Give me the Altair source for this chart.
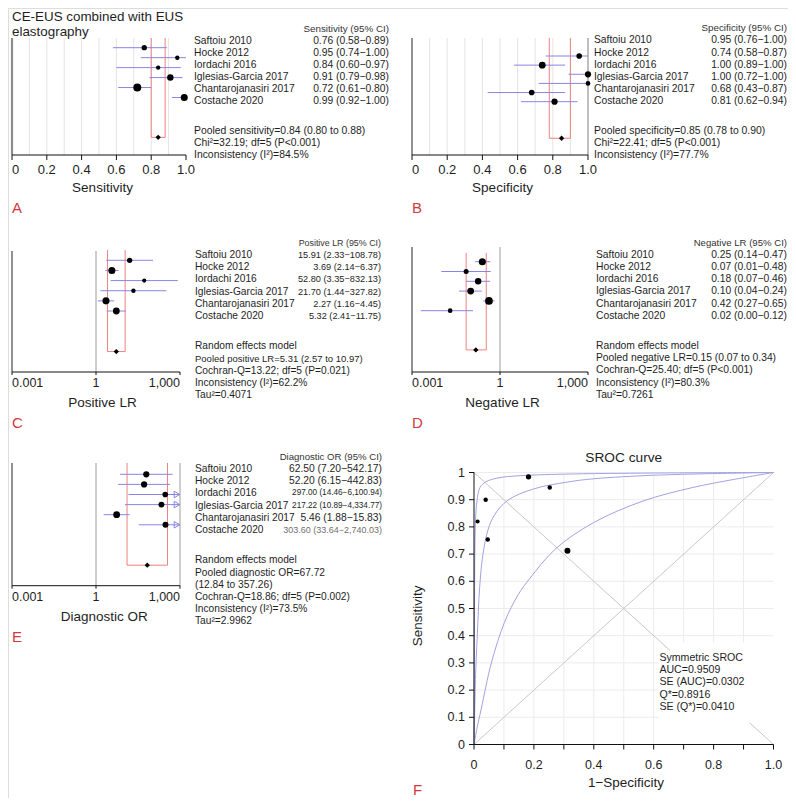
import math
import altair as alt
import pandas as pd

# ---------------------------------------------------------------- data
studies = ["Saftoiu 2010", "Hocke 2012", "Iordachi 2016", "Iglesias-Garcia 2017",
           "Chantarojanasiri 2017", "Costache 2020"]

sens_est = [0.76, 0.95, 0.84, 0.91, 0.72, 0.99]
sens_lo = [0.58, 0.74, 0.60, 0.79, 0.61, 0.92]
sens_hi = [0.89, 1.00, 0.97, 0.98, 0.80, 1.00]
sens_wt = [36, 25, 25, 53, 81, 64]
sens_pooled = [0.84, 0.80, 0.88]
sens_stats = ["Chi²=32.19; df=5 (P<0.001)", "Inconsistency (I²)=84.5%"]

spec_est = [0.95, 0.74, 1.00, 1.00, 0.68, 0.81]
spec_lo = [0.76, 0.58, 0.89, 0.72, 0.43, 0.62]
spec_hi = [1.00, 0.87, 1.00, 1.00, 0.87, 0.94]
spec_wt = [40, 59, 49, 28, 40, 49]
spec_pooled = [0.85, 0.78, 0.90]
spec_stats = ["Chi²=22.41; df=5 (P<0.001)", "Inconsistency (I²)=77.7%"]

plr_est = [15.91, 3.69, 52.80, 21.70, 2.27, 5.32]
plr_lo = [2.33, 2.14, 3.35, 1.44, 1.16, 2.41]
plr_hi = [108.78, 6.37, 832.13, 327.82, 4.45, 11.75]
plr_wt = [36, 64, 22, 25, 64, 59]
plr_pooled = [5.31, 2.57, 10.97]
plr_stats = ["Cochran-Q=13.22; df=5 (P=0.021)", "Inconsistency (I²)=62.2%", "Tau²=0.4071"]

nlr_est = [0.25, 0.07, 0.18, 0.10, 0.42, 0.02]
nlr_lo = [0.14, 0.01, 0.07, 0.04, 0.27, 0.002]
nlr_hi = [0.47, 0.48, 0.46, 0.24, 0.65, 0.12]
nlr_wt = [64, 32, 53, 59, 76, 28]
nlr_pooled = [0.15, 0.07, 0.34]
nlr_stats = ["Cochran-Q=25.40; df=5 (P<0.001)", "Inconsistency (I²)=80.3%", "Tau²=0.7261"]

dor_est = [62.50, 52.20, 297.00, 217.22, 5.46, 303.60]
dor_lo = [7.20, 6.15, 14.46, 10.89, 1.88, 33.64]
dor_hi = [542.17, 442.83, 6100.94, 4334.77, 15.83, 2740.03]
dor_wt = [49, 49, 40, 45, 59, 45]
dor_pooled = [67.72, 12.84, 357.26]
dor_stats = ["Cochran-Q=18.86; df=5 (P=0.002)", "Inconsistency (I²)=73.5%", "Tau²=2.9962"]

sroc_fpr = [0.046, 0.253, 0.012, 0.039, 0.312, 0.182]
sroc_tpr = [0.754, 0.945, 0.820, 0.900, 0.712, 0.984]
sroc_wt = [25, 25, 22, 25, 45, 36]

upper_x = [0.0, 0.001, 0.002, 0.003, 0.005, 0.010, 0.020, 0.040, 0.080, 0.150, 0.300, 0.600, 1.0]
upper_y = [0.0, 0.30, 0.58, 0.72, 0.82, 0.895, 0.945, 0.966, 0.980, 0.988, 0.994, 0.998, 1.0]
mid_x = [0.0, 0.002, 0.006, 0.011, 0.019, 0.030, 0.047, 0.069, 0.113, 0.200, 0.313, 0.400, 0.600, 0.800, 1.0]
mid_y = [0.0, 0.11, 0.28, 0.40, 0.58, 0.70, 0.79, 0.845, 0.898, 0.940, 0.965, 0.977, 0.990, 0.996, 1.0]
low_x = [0.0, 0.010, 0.024, 0.058, 0.102, 0.147, 0.186, 0.273, 0.398, 0.564, 0.731, 0.870, 1.0]
low_y = [0.0, 0.06, 0.13, 0.30, 0.45, 0.55, 0.61, 0.72, 0.815, 0.895, 0.945, 0.975, 1.0]

sroc_stats = ["Symmetric SROC", "AUC=0.9509", "SE (AUC)=0.0302", "Q*=0.8916", "SE (Q*)=0.0410"]

ticks01 = [0, 0.2, 0.4, 0.6, 0.8, 1.0]
ticks_log = [0.001, 1, 1000]
grid01 = [0.1, 0.2, 0.3, 0.4, 0.5, 0.6, 0.7, 0.8, 0.9]
tenths = [0, 0.1, 0.2, 0.3, 0.4, 0.5, 0.6, 0.7, 0.8, 0.9, 1.0]

# ---------------------------------------------------------------- layout
OX, OY = 8, 8
W, H = 780, 790
FONT = "Liberation Sans"
INK = "#1e1e1e"
AX = "#111111"
CI_COL = "#8686e6"
RED = "#ef8080"
LETTER = "#cf3a3f"


def ci_text(e, l, h):
    return f"{e:,.2f} ({l:,.2f}\u2212{h:,.2f})"


def lab01(v):
    return "0" if v == 0 else f"{v:.1f}"


def lablog(v):
    return f"{v:,g}"


def forest(c, est, lo, hi, wt, pooled, header, lines, val_fs=None, val_col=None, line_fs=None):
    L, R, T, B = c["box"]
    r0, st = c["rows"]
    ymin, ymax = (T - r0) / st, (B - r0) / st
    pidx = 9
    d0, d1 = c["dom"]
    xsc = alt.Scale(type="log" if c["log"] else "linear", domain=c["dom"],
                    range=[L - OX, R - OX], nice=False, zero=False)
    ysc = alt.Scale(type="linear", domain=[ymin, ymax], range=[T - OY, B - OY],
                    nice=False, zero=False)

    def X(f):
        return alt.X(f, type="quantitative", scale=xsc, axis=None)

    def Y(f):
        return alt.Y(f, type="quantitative", scale=ysc, axis=None)

    def inv_x(px_):
        f = (px_ - L) / (R - L)
        if c["log"]:
            return 10 ** (math.log10(d0) + f * (math.log10(d1) - math.log10(d0)))
        return d0 + f * (d1 - d0)

    def yidx(py_):
        return (py_ - r0) / st

    rows = list(range(len(studies)))
    layers = []
    if c.get("grid"):
        g = pd.DataFrame({"gx": c["grid"], "y0": ymin, "y1": ymax})
        layers.append(alt.Chart(g).mark_rule(color="#e4e4e4", strokeWidth=1)
                      .encode(x=X("gx"), y=Y("y0"), y2="y1"))
    rf = pd.DataFrame({"rx": [r[0] for r in c["refs"]], "col": [r[1] for r in c["refs"]],
                       "sw": [r[2] for r in c["refs"]], "y0": ymin, "y1": ymax})
    layers.append(alt.Chart(rf).mark_rule().encode(
        x=X("rx"), y=Y("y0"), y2="y1",
        color=alt.Color("col:N", scale=None), strokeWidth=alt.StrokeWidth("sw:Q", scale=None)))
    rtop = yidx(c["redtop"])
    rv = pd.DataFrame({"rx": pooled[1:], "y0": rtop, "y1": pidx})
    layers.append(alt.Chart(rv).mark_rule(color=RED, strokeWidth=1).encode(x=X("rx"), y=Y("y0"), y2="y1"))
    rh = pd.DataFrame({"x0": [pooled[1]], "x1": [pooled[2]], "yy": [pidx]})
    layers.append(alt.Chart(rh).mark_rule(color=RED, strokeWidth=1).encode(x=X("x0"), x2="x1", y=Y("yy")))

    # ---- axis drawn with marks
    dom = pd.DataFrame({"x0": [d0], "x1": [d1], "yy": [ymax]})
    layers.append(alt.Chart(dom).mark_rule(color=AX, strokeWidth=1).encode(x=X("x0"), x2="x1", y=Y("yy")))
    tk = pd.DataFrame({"tx": c["ticks"], "y0": ymax, "y1": ymax + c["tick"] / st})
    layers.append(alt.Chart(tk).mark_rule(color=AX, strokeWidth=1).encode(x=X("tx"), y=Y("y0"), y2="y1"))
    fmt = lablog if c["log"] else lab01
    labs = [(v, fmt(v)) for v in c["ticks"]]
    ly = yidx(c["labc"])
    if c["flush"] == "both":
        groups_al = {"left": labs[:1], "center": labs[1:-1], "right": labs[-1:]}
    else:
        groups_al = {"left": labs[:1], "center": labs[1:]}
    for al, items in groups_al.items():
        if not items:
            continue
        ld = pd.DataFrame({"tx": [v for v, _ in items], "ty": ly, "t": [s for _, s in items]})
        layers.append(alt.Chart(ld).mark_text(align=al, baseline="middle", fontSize=c["lfs"], color=INK)
                      .encode(x=X("tx"), y=Y("ty"), text="t:N"))
    tt = pd.DataFrame({"tx": [inv_x(c["tx"])], "ty": [yidx(c["ty"])], "t": [c["xtitle"]]})
    layers.append(alt.Chart(tt).mark_text(align="center", baseline="middle", fontSize=13.5, color=INK)
                  .encode(x=X("tx"), y=Y("ty"), text="t:N"))

    # ---- CIs and points
    ci = pd.DataFrame({"lo": lo, "hi": [min(h, d1) for h in hi], "r": rows})
    layers.append(alt.Chart(ci).mark_rule(color=CI_COL, strokeWidth=1)
                  .encode(x=X("lo"), x2="hi", y=Y("r")))
    over = [r for r, h in zip(rows, hi) if h > d1]
    if over:
        ar = pd.DataFrame({"ax": [d1] * len(over), "r": over})
        layers.append(alt.Chart(ar).mark_point(shape="triangle-right", filled=False, size=42,
                                               color=CI_COL, strokeWidth=1, opacity=1, xOffset=-3)
                      .encode(x=X("ax"), y=Y("r")))
    pt = pd.DataFrame({"e": est, "r": rows, "w": wt})
    layers.append(alt.Chart(pt).mark_circle(color="black", opacity=1).encode(
        x=X("e"), y=Y("r"),
        size=alt.Size("w:Q", scale=alt.Scale(domain=[0, 100], range=[0, 78.5]), legend=None)))
    pdm = pd.DataFrame({"e": [pooled[0]], "r": [pidx]})
    layers.append(alt.Chart(pdm).mark_point(shape="diamond", filled=True, color="black",
                                            size=28, opacity=1).encode(x=X("e"), y=Y("r")))

    # ---- panel letter and (panel A) figure title
    ann_t = [c["letter"][0]]
    ann_y = [yidx(c["letter"][1])]
    ann_fs = [15]
    ann_c = [LETTER]
    for txt, yy in c.get("title", []):
        ann_t.append(txt)
        ann_y.append(yidx(yy))
        ann_fs.append(13.4)
        ann_c.append(INK)
    an = pd.DataFrame({"ax": d0, "ay": ann_y, "t": ann_t, "fs": ann_fs, "c": ann_c})
    layers.append(alt.Chart(an).mark_text(align="left", baseline="middle").encode(
        x=X("ax"), y=Y("ay"), text="t:N", size=alt.Size("fs:Q", scale=None),
        color=alt.Color("c:N", scale=None)))
    plot_group = alt.layer(*layers)

    # ---- text columns
    nx, vx = c["tcols"]
    t0, ts = c["trows"]
    txs = alt.Scale(domain=[0, 1], range=[nx - OX, vx - OX], nice=False, zero=False)
    tys = alt.Scale(domain=[0, 1], range=[t0 - OY, t0 + ts - OY], nice=False, zero=False)
    fs_n = c["fs"]
    left = pd.DataFrame({
        "tx": 0.0,
        "ty": [r + 1 for r in rows] + [8.5 + i for i in range(len(lines))],
        "t": studies + lines,
        "fs": [fs_n] * len(studies) + (line_fs if line_fs else [c["sfs"]] * len(lines)),
        "c": INK})
    vals = [ci_text(e, l, h) for e, l, h in zip(est, lo, hi)]
    right = pd.DataFrame({
        "tx": 1.0,
        "ty": [0] + [r + 1 for r in rows],
        "t": [header] + vals,
        "fs": [c["hfs"]] + (val_fs if val_fs else [c["vfs"]] * len(rows)),
        "c": ["#333"] + (val_col if val_col else [INK] * len(rows))})
    enc = dict(x=alt.X("tx:Q", scale=txs, axis=None), y=alt.Y("ty:Q", scale=tys, axis=None),
               text="t:N", size=alt.Size("fs:Q", scale=None), color=alt.Color("c:N", scale=None))
    text_group = alt.layer(
        alt.Chart(left).mark_text(align="left", baseline="middle").encode(**enc),
        alt.Chart(right).mark_text(align="right", baseline="middle").encode(**enc))
    return [plot_group, text_group]


cfgA = dict(dom=[0, 1], log=False, box=(12, 186, 38, 155), rows=(47.7, 9.96), redtop=38,
            grid=grid01, refs=[(0, "#8c8c8c", 2.2)], ticks=ticks01, tick=5, labc=170,
            lfs=13, flush="left", xtitle="Sensitivity", tx=102.5, ty=188, tcols=(194, 389),
            trows=(28.5, 12.08), letter=("A", 207.5), fs=10.3, vfs=10.3, hfs=9.8, sfs=10.4,
            title=[("CE-EUS combined with EUS", 16.5), ("elastography", 31.8)])
cfgB = dict(dom=[0, 1], log=False, box=(412, 588, 38, 155), rows=(56, 9.14), redtop=38,
            grid=grid01, refs=[(0, "#222", 1), (1, "#a8a8a8", 1.5)], ticks=ticks01,
            tick=5, labc=170, lfs=13, flush="left", xtitle="Specificity", tx=502.5, ty=188.3,
            tcols=(594, 787), trows=(28.4, 12.08), letter=("B", 208), fs=10.3, vfs=10.3,
            hfs=9.8, sfs=10.4)
cfgC = dict(dom=[0.001, 1000], log=True, box=(12, 180, 251, 372), rows=(260.3, 10.14), redtop=250,
            refs=[(0.001, "#222", 1), (1, "#9c9c9c", 1)], ticks=ticks_log, tick=3,
            labc=383.3, lfs=12.5, flush="both", xtitle="Positive LR", tx=102.5, ty=403.3,
            tcols=(195, 381), trows=(242.7, 12.2), letter=("C", 423), fs=10.2, vfs=9.2, hfs=8.9,
            sfs=10.2)
cfgD = dict(dom=[0.001, 1000], log=True, box=(412, 588, 247, 372), rows=(261.7, 9.8), redtop=253,
            refs=[(0.001, "#222", 1), (1, "#9c9c9c", 1)], ticks=ticks_log, tick=3,
            labc=383.3, lfs=12.5, flush="both", xtitle="Negative LR", tx=502.5, ty=403.3,
            tcols=(596, 787), trows=(242.7, 12.17), letter=("D", 423), fs=10.3, vfs=10.3, hfs=9.6,
            sfs=10.3)
cfgE = dict(dom=[0.001, 1000], log=True, box=(12, 180, 463, 585.7), rows=(474.3, 10.1), redtop=463,
            refs=[(0.001, "#222", 1), (1, "#9c9c9c", 1), (1000, "#9c9c9c", 1)], ticks=ticks_log,
            tick=3, labc=596.7, lfs=12.5, flush="both", xtitle="Diagnostic OR",
            tx=104.2, ty=616.7, tcols=(195, 382), trows=(456.7, 12.2), letter=("E", 636.7),
            fs=10.2, vfs=10.3, hfs=9.6, sfs=10.2)

groups = []
groups += forest(cfgA, sens_est, sens_lo, sens_hi, sens_wt, sens_pooled, "Sensitivity (95% CI)",
                 [f"Pooled sensitivity={sens_pooled[0]:.2f} ({sens_pooled[1]:.2f} to {sens_pooled[2]:.2f})"]
                 + sens_stats)
groups += forest(cfgB, spec_est, spec_lo, spec_hi, spec_wt, spec_pooled, "Specificity (95% CI)",
                 [f"Pooled specificity={spec_pooled[0]:.2f} ({spec_pooled[1]:.2f} to {spec_pooled[2]:.2f})"]
                 + spec_stats)
groups += forest(cfgC, plr_est, plr_lo, plr_hi, plr_wt, plr_pooled, "Positive LR (95% CI)",
                 ["Random effects model",
                  f"Pooled positive LR={plr_pooled[0]:.2f} ({plr_pooled[1]:.2f} to {plr_pooled[2]:.2f})"]
                 + plr_stats, line_fs=[10.2, 9.5, 10.2, 10.2, 10.2])
groups += forest(cfgD, nlr_est, nlr_lo, nlr_hi, nlr_wt, nlr_pooled, "Negative LR (95% CI)",
                 ["Random effects model",
                  f"Pooled negative LR={nlr_pooled[0]:.2f} ({nlr_pooled[1]:.2f} to {nlr_pooled[2]:.2f})"]
                 + nlr_stats)
dor_fs = [8.2 if h > 1000 else 10.3 for h in dor_hi]
dor_fs[-1] = 9.0
dor_col = [INK] * 5 + ["#707070"]
groups += forest(cfgE, dor_est, dor_lo, dor_hi, dor_wt, dor_pooled, "Diagnostic OR (95% CI)",
                 ["Random effects model", f"Pooled diagnostic OR={dor_pooled[0]:.2f}",
                  f"({dor_pooled[1]:.2f} to {dor_pooled[2]:.2f})"] + dor_stats,
                 val_fs=dor_fs, val_col=dor_col)

# ---------------------------------------------------------------- SROC panel (F)
FL, FR, FT, FB = 474, 773.5, 472.5, 744.5
SX, SY = FR - FL, FB - FT
fx = alt.Scale(domain=[0, 1], range=[FL - OX, FR - OX], nice=False, zero=False)
fy = alt.Scale(domain=[0, 1], range=[FB - OY, FT - OY], nice=False, zero=False)


def FX(f):
    return alt.X(f, type="quantitative", scale=fx, axis=None)


def FY(f):
    return alt.Y(f, type="quantitative", scale=fy, axis=None)


vg = pd.DataFrame({"gx": grid01, "y0": 0.0, "y1": 1.0})
hg = pd.DataFrame({"gy": tenths[1:], "x0": 0.0, "x1": 1.0})
box = pd.DataFrame({"x0": [0.617], "x1": [1.0], "y0": [0.0], "y1": [0.375]})
diag = pd.DataFrame({"x0": [0.0, 0.0, 0.92], "y0": [0.0, 1.0, 0.08],
                     "x1": [1.0, 0.655, 1.0], "y1": [1.0, 0.345, 0.0]})
curves = pd.concat([
    pd.DataFrame({"curve": name, "i": range(len(xx)), "cx": xx, "cy": yy})
    for name, xx, yy in [("upper", upper_x, upper_y), ("sroc", mid_x, mid_y), ("lower", low_x, low_y)]])
pts = pd.DataFrame({"fx": sroc_fpr, "fy": sroc_tpr, "w": sroc_wt})
stat_df = pd.DataFrame({"sx": 0.619, "sy": [0.317 - 0.0445 * i for i in range(len(sroc_stats))],
                        "t": sroc_stats})
ftitle = pd.DataFrame({"sx": [0.5], "sy": [(FB - 458.3) / SY], "t": ["SROC curve"]})
fletter = pd.DataFrame({"sx": [(413 - FL) / SX], "sy": [(FB - 790) / SY], "t": ["F"]})

# axes as marks
ax_lines = pd.DataFrame({"x0": [0.0, 0.0], "x1": [0.0, 1.0], "y0": [0.0, 0.0], "y1": [1.0, 0.0]})
xt = pd.DataFrame({"tx": tenths, "y0": 0.0, "y1": -5 / SY})
yt = pd.DataFrame({"ty": tenths, "x0": 0.0, "x1": -5 / SX})
xl = pd.DataFrame({"tx": tenths[::2], "ty": -(765 - FB) / SY,
                   "t": ["0" if v == 0 else f"{v:.1f}" for v in tenths[::2]]})
yl = pd.DataFrame({"tx": -9 / SX, "ty": tenths,
                   "t": ["0" if v == 0 else ("1" if v == 1 else f"{v:.1f}") for v in tenths]})
xtitle = pd.DataFrame({"tx": [(626 - FL) / SX], "ty": [-(783.3 - FB) / SY], "t": ["1\u2212Specificity"]})
ytitle = pd.DataFrame({"tx": [(418 - FL) / SX], "ty": [(FB - 615.8) / SY], "t": ["Sensitivity"]})

sroc_group = alt.layer(
    alt.Chart(vg).mark_rule(color="#ececec").encode(x=FX("gx"), y=FY("y0"), y2="y1"),
    alt.Chart(hg).mark_rule(color="#ececec").encode(y=FY("gy"), x=FX("x0"), x2="x1"),
    alt.Chart(box).mark_rect(color="white", opacity=1).encode(x=FX("x0"), x2="x1", y=FY("y0"), y2="y1"),
    alt.Chart(diag).mark_rule(color="#c8c8c8", strokeWidth=1).encode(
        x=FX("x0"), y=FY("y0"), x2="x1", y2="y1"),
    alt.Chart(curves).mark_line(color="#a2a2e4", strokeWidth=1, interpolate="catmull-rom").encode(
        x=FX("cx"), y=FY("cy"), detail="curve:N", order="i:Q"),
    alt.Chart(ax_lines).mark_rule(color=AX, strokeWidth=1).encode(
        x=FX("x0"), y=FY("y0"), x2="x1", y2="y1"),
    alt.Chart(xt).mark_rule(color=AX, strokeWidth=1).encode(x=FX("tx"), y=FY("y0"), y2="y1"),
    alt.Chart(yt).mark_rule(color=AX, strokeWidth=1).encode(y=FY("ty"), x=FX("x0"), x2="x1"),
    alt.Chart(xl).mark_text(align="center", baseline="middle", fontSize=12.5, color=INK).encode(
        x=FX("tx"), y=FY("ty"), text="t:N"),
    alt.Chart(yl).mark_text(align="right", baseline="middle", fontSize=12.5, color=INK).encode(
        x=FX("tx"), y=FY("ty"), text="t:N"),
    alt.Chart(xtitle).mark_text(align="center", baseline="middle", fontSize=13.5, color=INK).encode(
        x=FX("tx"), y=FY("ty"), text="t:N"),
    alt.Chart(ytitle).mark_text(align="center", baseline="middle", fontSize=13.5, color=INK,
                                angle=270).encode(x=FX("tx"), y=FY("ty"), text="t:N"),
    alt.Chart(pts).mark_circle(color="black", opacity=1).encode(
        x=FX("fx"), y=FY("fy"),
        size=alt.Size("w:Q", scale=alt.Scale(domain=[0, 100], range=[0, 78.5]), legend=None)),
    alt.Chart(stat_df).mark_text(align="left", baseline="middle", fontSize=10.6, color=INK).encode(
        x=FX("sx"), y=FY("sy"), text="t:N"),
    alt.Chart(ftitle).mark_text(align="center", baseline="middle", fontSize=13.7, color=INK).encode(
        x=FX("sx"), y=FY("sy"), text="t:N"),
    alt.Chart(fletter).mark_text(align="left", baseline="middle", fontSize=15, color=LETTER).encode(
        x=FX("sx"), y=FY("sy"), text="t:N"),
)
groups.append(sroc_group)

chart = (alt.layer(*groups)
         .resolve_scale(x="independent", y="independent")
         .properties(width=W, height=H, padding=0, autosize=alt.AutoSizeParams(type="none"))
         .configure_view(stroke=None)
         .configure(font=FONT))

chart.save("out.html", embed_options={"renderer": "svg", "actions": False})
